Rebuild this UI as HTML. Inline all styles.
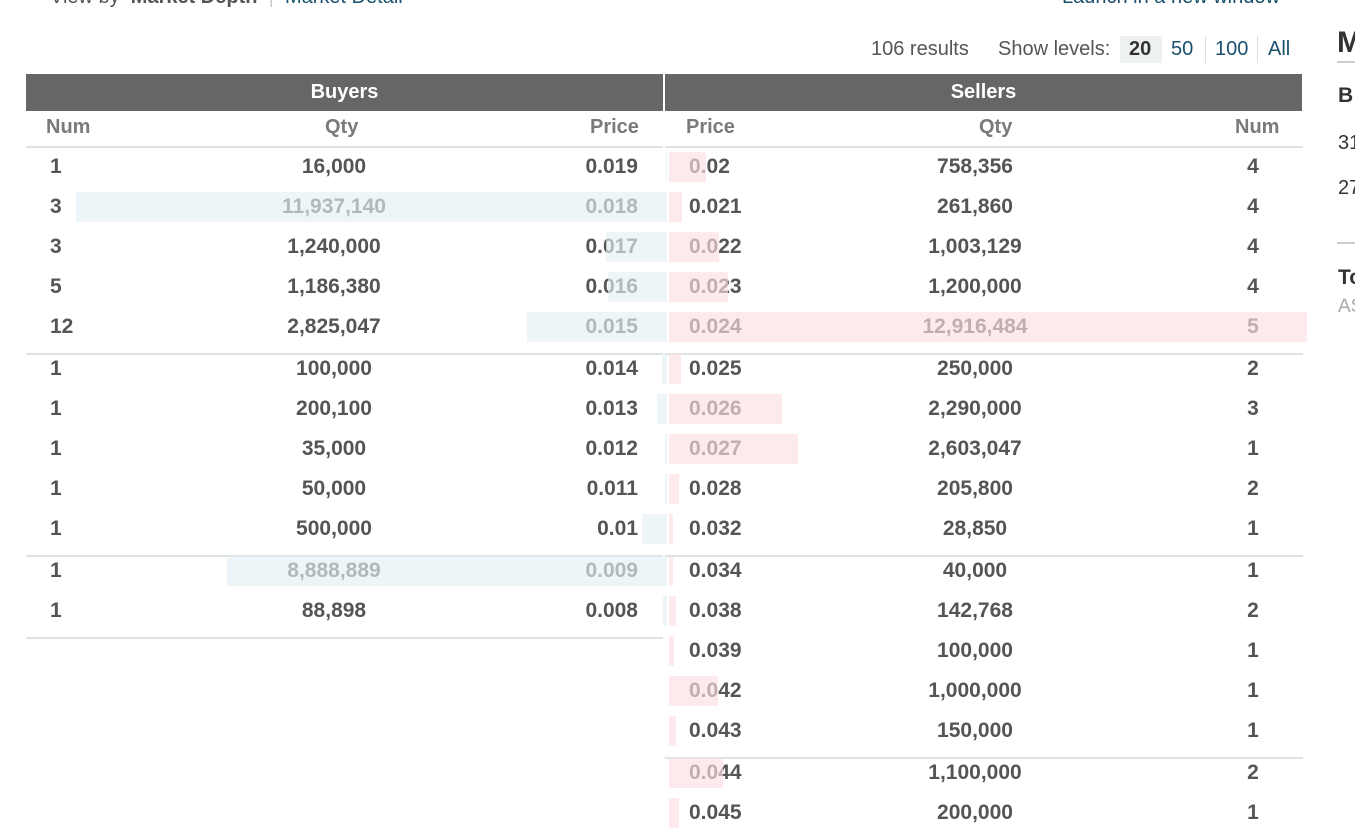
<!DOCTYPE html>
<html><head><meta charset="utf-8">
<style>
body{margin:0;width:1355px;height:822px;overflow:hidden;background:#fff;font-family:"Liberation Sans",Arial,sans-serif;position:relative;color:#555}
.a{position:absolute;white-space:nowrap}
.hd{position:absolute;top:74px;height:37px;background:#666;color:#fff;font-weight:bold;font-size:20px;line-height:37px;text-align:center}
.ch{position:absolute;top:116px;font-size:20px;font-weight:bold;color:#7a7a7a}
.v{position:absolute;font-size:21px;font-weight:bold;color:#555;line-height:24px}
.hr{position:absolute;height:2px;background:#dde2e2}
.bar{position:absolute;height:30px;opacity:.65}
</style></head><body>
<div class="a" style="left:50px;top:-14px;font-size:20px;color:#555">View by &nbsp;<b>Market Depth</b> &nbsp;<span style="color:#ccc">|</span>&nbsp; <span style="color:#1a4f6e">Market Detail</span></div>
<div class="a" style="left:1062px;top:-14px;font-size:20px;color:#1a4f6e">Launch in a new window</div>
<div class="a" style="left:871px;top:38px;font-size:20px;color:#555">106 results</div>
<div class="a" style="left:998px;top:38px;font-size:20px;color:#555">Show levels:</div>
<div class="a" style="left:1120px;top:36px;width:42px;height:27px;background:#eef1f2"></div>
<div class="a" style="left:1129px;top:38px;font-size:20px;font-weight:bold;color:#333">20</div>
<div class="a" style="left:1171px;top:38px;font-size:20px;color:#1a4f6e">50</div>
<div class="a" style="left:1215px;top:38px;font-size:20px;color:#1a4f6e">100</div>
<div class="a" style="left:1268px;top:38px;font-size:20px;color:#1a4f6e">All</div>
<div class="a" style="left:1205px;top:36px;width:1px;height:27px;background:#ddd"></div>
<div class="a" style="left:1257px;top:36px;width:1px;height:27px;background:#ddd"></div>
<div class="a" style="left:1337px;top:26px;font-size:30px;font-weight:bold;color:#333">M</div>
<div class="a" style="left:1337px;top:61px;width:18px;height:2px;background:#ccc"></div>
<div class="a" style="left:1338px;top:84px;font-size:21px;font-weight:bold;color:#333">B</div>
<div class="a" style="left:1338px;top:132px;font-size:20px;color:#333">31</div>
<div class="a" style="left:1338px;top:177px;font-size:20px;color:#333">27</div>
<div class="a" style="left:1337px;top:242px;width:18px;height:2px;background:#ccc"></div>
<div class="a" style="left:1338px;top:266px;font-size:21px;font-weight:bold;color:#333">To</div>
<div class="a" style="left:1338px;top:296px;font-size:19px;color:#aaa">AS</div>

<div class="hd" style="left:26px;width:637px">Buyers</div>
<div class="hd" style="left:665px;width:637px">Sellers</div>
<div class="ch" style="left:46px">Num</div>
<div class="ch" style="left:325px">Qty</div>
<div class="ch" style="left:590px">Price</div>
<div class="ch" style="left:686px">Price</div>
<div class="ch" style="left:979px">Qty</div>
<div class="ch" style="left:1235px">Num</div>
<div class="hr" style="left:26px;width:637px;top:146px"></div>
<div class="hr" style="left:665px;width:638px;top:146px"></div>
<div id="book"></div>
<script>
const buyNum=[1,3,3,5,12,1,1,1,1,1,1,1];
const buyQty=[16000,11937140,1240000,1186380,2825047,100000,200100,35000,50000,500000,8888889,88898];
const buyPrice=["0.019","0.018","0.017","0.016","0.015","0.014","0.013","0.012","0.011","0.01","0.009","0.008"];
const sellPrice=["0.02","0.021","0.022","0.023","0.024","0.025","0.026","0.027","0.028","0.032","0.034","0.038","0.039","0.042","0.043","0.044","0.045"];
const sellQty=[758356,261860,1003129,1200000,12916484,250000,2290000,2603047,205800,28850,40000,142768,100000,1000000,150000,1100000,200000];
const sellNum=[4,4,4,4,5,2,3,1,2,1,1,2,1,1,1,2,1];
const book=document.getElementById('book');
const maxQ=Math.max(...buyQty,...sellQty);
function rowY(i){return 155+i*40+Math.floor(i/5)*2;}
function mk(cls,style,txt,name){const d=document.createElement('div');d.className=cls;d.style.cssText=style;if(txt!=null)d.textContent=txt;


book.appendChild(d);return d;}
const fmt=n=>n.toLocaleString('en-US');
buyQty.forEach((q,i)=>{const y=rowY(i);
mk('v',`left:50px;top:${y}px`,buyNum[i],'buy-num');
mk('v',`left:234px;width:200px;text-align:center;top:${y}px`,fmt(q),'buy-qty');
mk('v',`left:538px;width:100px;text-align:right;top:${y}px`,buyPrice[i],'buy-price');
const w=q/maxQ*640;
mk('bar',`left:${667-w}px;width:${w}px;top:${y-3}px;background:#e3eff5`,null,'buy-depth-bar');
if(i%5==4||i==buyQty.length-1)mk('hr',`left:26px;width:637px;top:${y+38}px`,null,'row-separator');
});
sellQty.forEach((q,i)=>{const y=rowY(i);
mk('v',`left:689px;top:${y}px`,sellPrice[i],'sell-price');
mk('v',`left:875px;width:200px;text-align:center;top:${y}px`,fmt(q),'sell-qty');
mk('v',`left:1203px;width:100px;text-align:center;top:${y}px`,sellNum[i],'sell-num');
const w=Math.max(q/maxQ*638,4);
mk('bar',`left:669px;width:${w}px;top:${y-3}px;background:#fcdfe2`,null,'sell-depth-bar');
if(i%5==4)mk('hr',`left:665px;width:638px;top:${y+38}px`,null,'row-separator');
});
</script>
</body></html>
